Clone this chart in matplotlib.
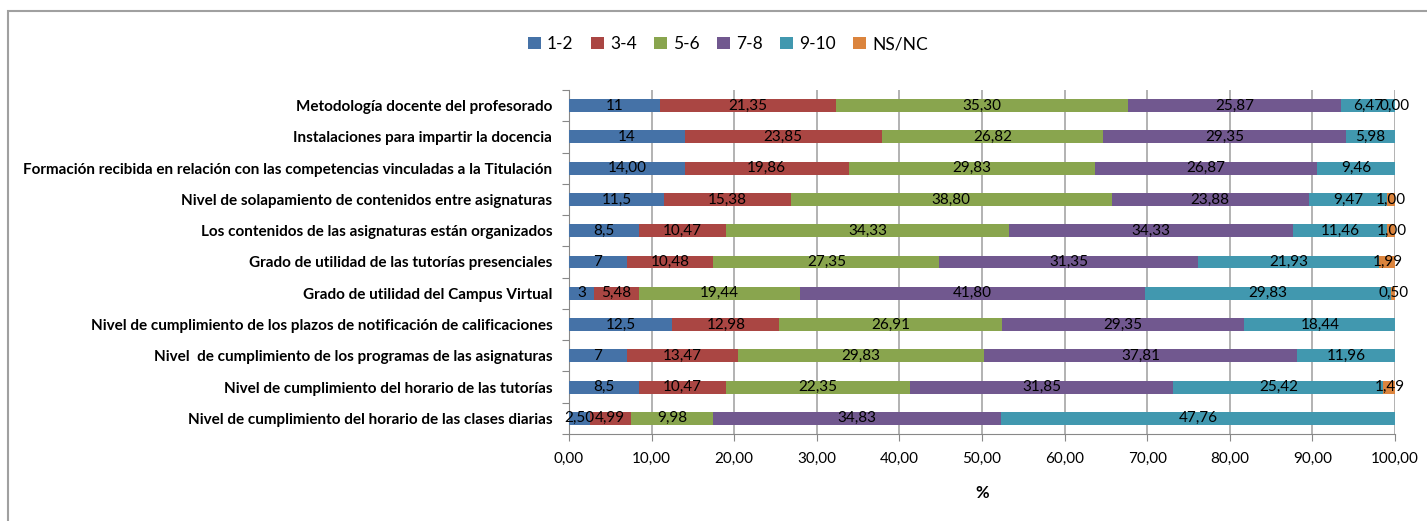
import numpy as np
import matplotlib.pyplot as plt
from matplotlib.patches import Rectangle

plt.rcParams['font.family'] = ['Lato', 'DejaVu Sans']

# categories, top to bottom as in the chart
categories = [
    'Metodología docente del profesorado',
    'Instalaciones para impartir la docencia',
    'Formación recibida en relación con las competencias vinculadas a la Titulación',
    'Nivel de solapamiento de contenidos entre asignaturas',
    'Los contenidos de las asignaturas están organizados',
    'Grado de utilidad de las tutorías presenciales',
    'Grado de utilidad del Campus Virtual',
    'Nivel de cumplimiento de los plazos de notificación de calificaciones',
    'Nivel  de cumplimiento de los programas de las asignaturas',
    'Nivel de cumplimiento del horario de las tutorías',
    'Nivel de cumplimiento del horario de las clases diarias',
]

s12 = [11, 14, 14.00, 11.5, 8.5, 7, 3, 12.5, 7, 8.5, 2.50]
s34 = [21.35, 23.85, 19.86, 15.38, 10.47, 10.48, 5.48, 12.98, 13.47, 10.47, 4.99]
s56 = [35.30, 26.82, 29.83, 38.80, 34.33, 27.35, 19.44, 26.91, 29.83, 22.35, 9.98]
s78 = [25.87, 29.35, 26.87, 23.88, 34.33, 31.35, 41.80, 29.35, 37.81, 31.85, 34.83]
s910 = [6.47, 5.98, 9.46, 9.47, 11.46, 21.93, 29.83, 18.44, 11.96, 25.42, 47.76]
sns = [0.00, np.nan, np.nan, 1.00, 1.00, 1.99, 0.50, np.nan, np.nan, 1.49, np.nan]

# the 1-2 labels are written differently row by row in the original
labels12 = ['11', '14', '14,00', '11,5', '8,5', '7', '3', '12,5', '7', '8,5', '2,50']

names = ['1-2', '3-4', '5-6', '7-8', '9-10', 'NS/NC']
colors = ['#4572A7', '#AA4643', '#89A54E', '#71588F', '#4198AF', '#DB843D']
series = [s12, s34, s56, s78, s910, sns]

W, H = 1427, 521
fig = plt.figure(figsize=(W / 100, H / 100), dpi=100)
ax = fig.add_axes([569 / W, 1 - 434 / H, (1395 - 569) / W, (434 - 90) / H])

y = np.arange(len(categories))
left = np.zeros(len(categories))
for i, vals in enumerate(series):
    v = np.array(vals, dtype=float)
    w = np.nan_to_num(v)
    ax.barh(y, w, left=left, height=0.41, color=colors[i], label=names[i], zorder=3)
    for j in range(len(y)):
        if np.isnan(v[j]):
            continue
        if i == 0:
            txt = labels12[j]
        else:
            txt = ('%.2f' % v[j]).replace('.', ',')
        ax.text(left[j] + w[j] / 2, y[j], txt, ha='center', va='center',
                fontsize=11, color='black', zorder=4)
    left += w

ax.set_xlim(0, 100)
ax.set_ylim(len(categories) - 0.5, -0.5)

xt = np.arange(0, 101, 10)
ax.set_xticks(xt)
ax.set_xticklabels([('%.2f' % t).replace('.', ',') for t in xt], fontsize=11)
ax.tick_params(axis='x', length=5, color='#888888', pad=8)

# tick marks between categories, labels at the centres
ax.set_yticks(np.arange(-0.5, len(categories), 1))
ax.set_yticklabels([])
ax.set_yticks(y, minor=True)
ax.set_yticklabels(categories, minor=True, fontsize=11, fontweight='bold')
ax.tick_params(axis='y', which='major', length=5, color='#888888')
ax.tick_params(axis='y', which='minor', length=0, pad=12)

ax.grid(axis='x', color='#a6a6a6', lw=1.2, zorder=0)
ax.set_axisbelow(True)
for s in ['top', 'right']:
    ax.spines[s].set_visible(False)
for s in ['left', 'bottom']:
    ax.spines[s].set_color('#888888')

ax.set_xlabel('%', fontsize=12, fontweight='bold', labelpad=14)

fig.legend(loc='center', bbox_to_anchor=(728 / W, 1 - 44 / H), ncol=6, frameon=False,
           handlelength=0.75, handleheight=0.75, handletextpad=0.35, columnspacing=1.0,
           fontsize=12.5)

# chart border (only left and top edges show in the crop)
fig.patches.append(Rectangle((8 / W, -0.1), 1.2, 1 - 11 / H + 0.1, transform=fig.transFigure,
                             fill=False, ec='#a0a0a0', lw=1.5))

fig.savefig('out.png', dpi=100)
